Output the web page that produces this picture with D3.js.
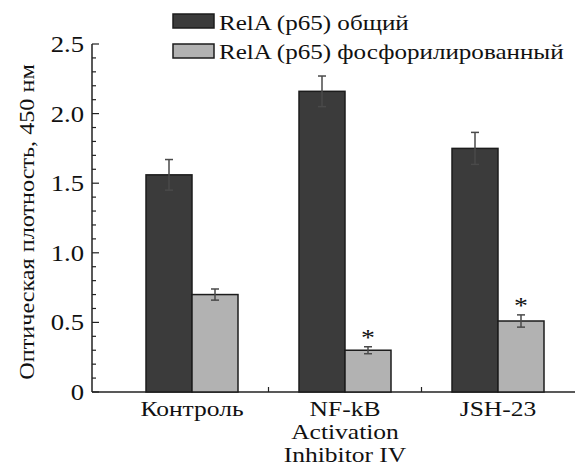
<!DOCTYPE html>
<html>
<head>
<meta charset="utf-8">
<script src="https://cdn.jsdelivr.net/npm/d3@7"></script>
<style>
  body { margin: 0; background: #fff; }
  text { font-family: "Liberation Serif", serif; fill: #111; font-variant-emoji: text; }
</style>
</head>
<body>
<div id="chart"></div>
<script>
// data
const categories = ["Контроль", "NF-kB\nActivation\nInhibitor IV", "JSH-23"];
const seriesNames = ["RelA (p65) общий", "RelA (p65) фосфорилированный"];
const totalValues = [1.56, 2.16, 1.75];
const totalErrors = [0.11, 0.11, 0.115];
const phosphoValues = [0.70, 0.30, 0.51];
const phosphoErrors = [0.04, 0.025, 0.044];
const phosphoStars = [false, true, true];
const yTicks = [0, 0.5, 1.0, 1.5, 2.0, 2.5];
const yTickLabels = ["0", "0.5", "1.0", "1.5", "2.0", "2.5"];

const width = 575, height = 467;
const fills = ["#3b3b3b", "#b2b2b2"];
const sx = 1.16; // the original figure's lettering is a bit wide

const svg = d3.select("#chart").append("svg")
    .attr("width", width)
    .attr("height", height);

const y = d3.scaleLinear().domain([0, 2.5]).range([392, 44]);
const x = d3.scaleBand().domain(categories).range([115.5, 574.5]).padding(0);
const xInner = d3.scaleBand().domain(seriesNames).range([0, 92]);

// put a text at (px,py) stretched horizontally
function place(t, px, py, k) {
    return t.attr("transform", `translate(${px},${py}) scale(${k || sx},1)`);
}

// axes lines
svg.append("line")
    .attr("x1", 92).attr("x2", 575)
    .attr("y1", y(0)).attr("y2", y(0))
    .attr("stroke", "#222").attr("stroke-width", 1.5);
svg.append("line")
    .attr("x1", 92).attr("x2", 92)
    .attr("y1", y(0)).attr("y2", y(2.5))
    .attr("stroke", "#222").attr("stroke-width", 1.5);

// y minor + major ticks (inward)
const minor = d3.range(0, 26).map(i => i / 10);
svg.append("g").selectAll("line")
    .data(minor).enter().append("line")
    .attr("x1", 92)
    .attr("x2", (d, i) => i % 5 === 0 ? 99 : 96)
    .attr("y1", d => y(d)).attr("y2", d => y(d))
    .attr("stroke", "#222").attr("stroke-width", 1.2);

yTicks.forEach((d, i) => {
    place(svg.append("text"), 84, y(d) + 8)
        .attr("text-anchor", "end")
        .style("font-size", "23px")
        .text(yTickLabels[i]);
});

// x ticks between groups
svg.append("g").selectAll("line")
    .data(categories.slice(1)).enter().append("line")
    .attr("x1", d => x(d)).attr("x2", d => x(d))
    .attr("y1", y(0)).attr("y2", y(0) - 5)
    .attr("stroke", "#222").attr("stroke-width", 1.2);

// category labels
categories.forEach(c => {
    const lines = c.split("\n");
    const t = place(svg.append("text"), x(c) + x.bandwidth() / 2, 416)
        .attr("text-anchor", "middle")
        .style("font-size", "22px");
    lines.forEach((l, i) => {
        t.append("tspan")
            .attr("x", 0)
            .attr("y", i * 23)
            .text(l);
    });
});

// bars
const rows = categories.map((c, i) => [
    {cat: c, s: seriesNames[0], v: totalValues[i], e: totalErrors[i], star: false, k: 0},
    {cat: c, s: seriesNames[1], v: phosphoValues[i], e: phosphoErrors[i], star: phosphoStars[i], k: 1}
]).flat();

const barX = d => x(d.cat) + x.bandwidth() / 2 - 46 + xInner(d.s);

svg.append("g").selectAll("rect")
    .data(rows).enter().append("rect")
    .attr("x", barX)
    .attr("y", d => y(d.v))
    .attr("width", xInner.bandwidth())
    .attr("height", d => y(0) - y(d.v))
    .attr("fill", d => fills[d.k])
    .attr("stroke", "#1c1c1c").attr("stroke-width", 1.5);

// error bars
const eb = svg.append("g").attr("stroke", "#4a4a4a").attr("stroke-width", 1.5);
rows.forEach(d => {
    const cx = barX(d) + xInner.bandwidth() / 2;
    eb.append("line").attr("x1", cx).attr("x2", cx).attr("y1", y(d.v + d.e)).attr("y2", y(d.v - d.e));
    eb.append("line").attr("x1", cx - 4).attr("x2", cx + 4).attr("y1", y(d.v + d.e)).attr("y2", y(d.v + d.e));
    eb.append("line").attr("x1", cx - 4).attr("x2", cx + 4).attr("y1", y(d.v - d.e)).attr("y2", y(d.v - d.e));
});

// significance stars
rows.filter(d => d.star).forEach(d => {
    place(svg.append("text"), barX(d) + xInner.bandwidth() / 2, y(d.v + d.e) - 2)
        .attr("text-anchor", "middle")
        .style("font-size", "24px")
        .text("*");
});

// legend
const leg = svg.append("g");
seriesNames.forEach((s, i) => {
    leg.append("rect")
        .attr("x", 173).attr("y", 14 + i * 30)
        .attr("width", 41).attr("height", 14)
        .attr("fill", fills[i])
        .attr("stroke", "#1c1c1c").attr("stroke-width", 1.5);
    place(leg.append("text"), 219, 30 + i * 29, 1.14)
        .style("font-size", "22px")
        .text(s);
});

// y axis title
svg.append("text")
    .attr("transform", "translate(34,222) rotate(-90) scale(1.1,1)")
    .attr("text-anchor", "middle")
    .style("font-size", "22px")
    .text("Оптическая плотность, 450 нм");
</script>
</body>
</html>
